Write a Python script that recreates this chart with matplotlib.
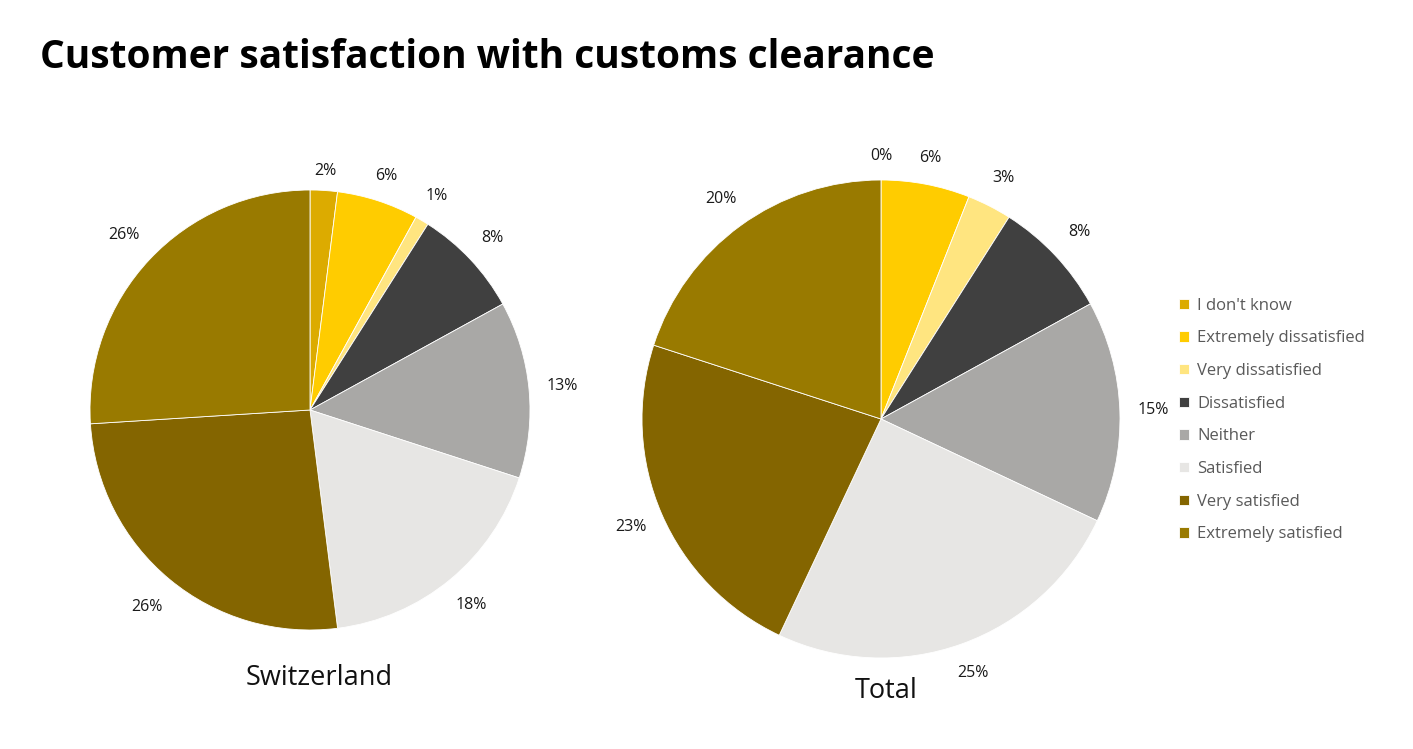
import matplotlib.pyplot as plt

plt.rcParams['font.family'] = ['Open Sans', 'DejaVu Sans']

categories = ['I don\'t know', 'Extremely dissatisfied', 'Very dissatisfied', 'Dissatisfied',
              'Neither', 'Satisfied', 'Very satisfied', 'Extremely satisfied']
switzerland = [2, 6, 1, 8, 13, 18, 26, 26]
total = [0, 6, 3, 8, 15, 25, 23, 20]
colors = ['#DCAB00', '#FFCC00', '#FFE580', '#404040', '#A9A8A6', '#E7E6E4', '#846500', '#997A00']

# label distance (in radii) per slice, to mimic the best-fit placement
ch_dist = [1.09, 1.12, 1.13, 1.14, 1.15, 1.15, 1.16, 1.16]
tot_dist = [1.10, 1.11, 1.13, 1.14, 1.14, 1.13, 1.14, 1.14]

W, H = 1413, 749
fig = plt.figure(figsize=(W / 100, H / 100), dpi=100)


def pie_axes(cx, cy, r):
    # pixel center/radius -> figure axes rect
    return fig.add_axes([(cx - r) / W, (H - cy - r) / H, 2 * r / W, 2 * r / H])


def draw_pie(ax, vals, name, dists, name_x, name_y):
    wedges, texts, autotexts = ax.pie(
        vals, colors=colors, startangle=90, counterclock=False,
        autopct=lambda p: '%d%%' % round(p), pctdistance=1.0,
        wedgeprops=dict(edgecolor='white', linewidth=0.6),
        textprops=dict(fontsize=11.5, color='#1a1a1a'))
    ax.set_xlim(-1, 1)
    ax.set_ylim(-1, 1)
    ax.set_aspect('equal')
    for t, d in zip(autotexts, dists):
        x, y = t.get_position()
        t.set_position((x * d, y * d))
        t.set_clip_on(False)
    ax.text(name_x, name_y, name, ha='center', va='center', fontsize=19.5, color='#111111', clip_on=False)
    return wedges


ax1 = pie_axes(310, 410, 220)
draw_pie(ax1, switzerland, 'Switzerland', ch_dist, 0.04, -1.22)

ax2 = pie_axes(881, 419, 239)
wedges = draw_pie(ax2, total, 'Total', tot_dist, 0.02, -1.14)

fig.text(40 / W, 1 - 58 / H, 'Customer satisfaction with customs clearance',
         fontsize=28, fontweight='bold', va='center', ha='left')

leg = fig.legend(wedges, categories, loc='upper left', bbox_to_anchor=(1172 / W, 1 - 291 / H),
                 frameon=False, fontsize=12, handlelength=0.6, handleheight=0.6,
                 handletextpad=0.5, labelspacing=1.0, borderaxespad=0)
for t in leg.get_texts():
    t.set_color('#595959')

fig.savefig('out.png', dpi=100)
